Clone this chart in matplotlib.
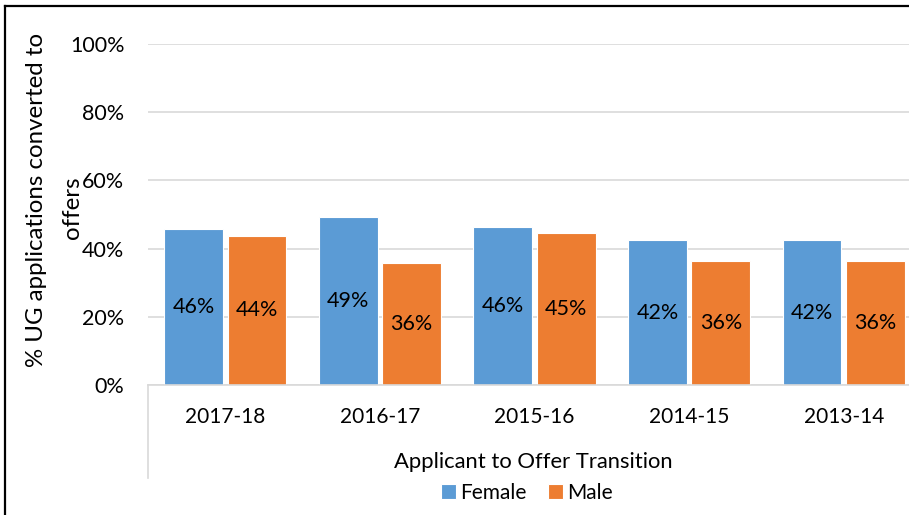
import matplotlib
matplotlib.use("Agg")
import matplotlib.pyplot as plt
from matplotlib.lines import Line2D
import numpy as np

categories = ["2017-18", "2016-17", "2015-16", "2014-15", "2013-14"]
female = [0.457, 0.494, 0.462, 0.425, 0.425]
male = [0.438, 0.358, 0.447, 0.363, 0.363]
female_labels = ["46%", "49%", "46%", "42%", "42%"]
male_labels = ["44%", "36%", "45%", "36%", "36%"]
yticks = [0, 0.2, 0.4, 0.6, 0.8, 1.0]
ytick_labels = ["0%", "20%", "40%", "60%", "80%", "100%"]

BLUE = "#5B9BD5"
ORANGE = "#ED7D31"
GRID = "#D9D9D9"
FONT = "Lato"
plt.rcParams['font.family'] = [FONT, 'DejaVu Sans']

W, H = 909, 515
fig = plt.figure(figsize=(W/100, H/100), dpi=100)
ax = fig.add_axes([148/W, 1-385/H, 773/W, 341/H])

x = np.arange(len(categories))
bw = 0.38
off = 0.205
b1 = ax.bar(x - off, female, bw, color=BLUE, edgecolor="white", linewidth=0.8, zorder=3, label="Female")
b2 = ax.bar(x + off, male, bw, color=ORANGE, edgecolor="white", linewidth=0.8, zorder=3, label="Male")
for xi, v, t in zip(x - off, female, female_labels):
    ax.text(xi, v/2, t, ha="center", va="center", fontsize=15.5, color="black", zorder=4)
for xi, v, t in zip(x + off, male, male_labels):
    ax.text(xi, v/2, t, ha="center", va="center", fontsize=15.5, color="black", zorder=4)

ax.set_xlim(-0.5, len(categories) - 0.5)
ax.set_ylim(0, 1.0)
ax.set_yticks(yticks)
ax.set_yticklabels(ytick_labels, fontsize=15.5)
ax.set_xticks(x)
ax.set_xticklabels(categories, fontsize=15)
ax.tick_params(axis="y", length=0, pad=17)
ax.tick_params(axis="x", length=0, pad=16)
ax.yaxis.grid(True, color=GRID, linewidth=1.2, zorder=0)
for s in ["top", "right", "left"]:
    ax.spines[s].set_visible(False)
ax.spines["bottom"].set_color(GRID)
ax.spines["bottom"].set_linewidth(1.2)
ax.spines["bottom"].set_zorder(5)

# category box line below axis
fig.add_artist(Line2D([148/W, 148/W], [1-385/H, 1-478/H], color=GRID, linewidth=1.2))

# axis titles
fig.text(37/W, 1-200/H, "% UG applications converted to", rotation=90, ha="center", va="center", fontsize=17.3)
fig.text(73/W, 1-208/H, "offers", rotation=90, ha="center", va="center", fontsize=17.3)
fig.text(533/W, 1-462/H, "Applicant to Offer Transition", ha="center", va="center", fontsize=15.8)

# legend
leg = fig.legend(handles=[b1, b2], labels=["Female", "Male"], loc="center", bbox_to_anchor=(527/W, 1-493/H),
                 ncol=2, frameon=False, fontsize=15, handlelength=0.75, handleheight=0.75,
                 handletextpad=0.2, columnspacing=1.0)

# outer frame
fig.add_artist(Line2D([5/W, 5/W], [0, 1-6/H], color="black", linewidth=1.6))
fig.add_artist(Line2D([5/W, 1], [1-6/H, 1-6/H], color="black", linewidth=1.6))

fig.savefig("out.png", dpi=100)
